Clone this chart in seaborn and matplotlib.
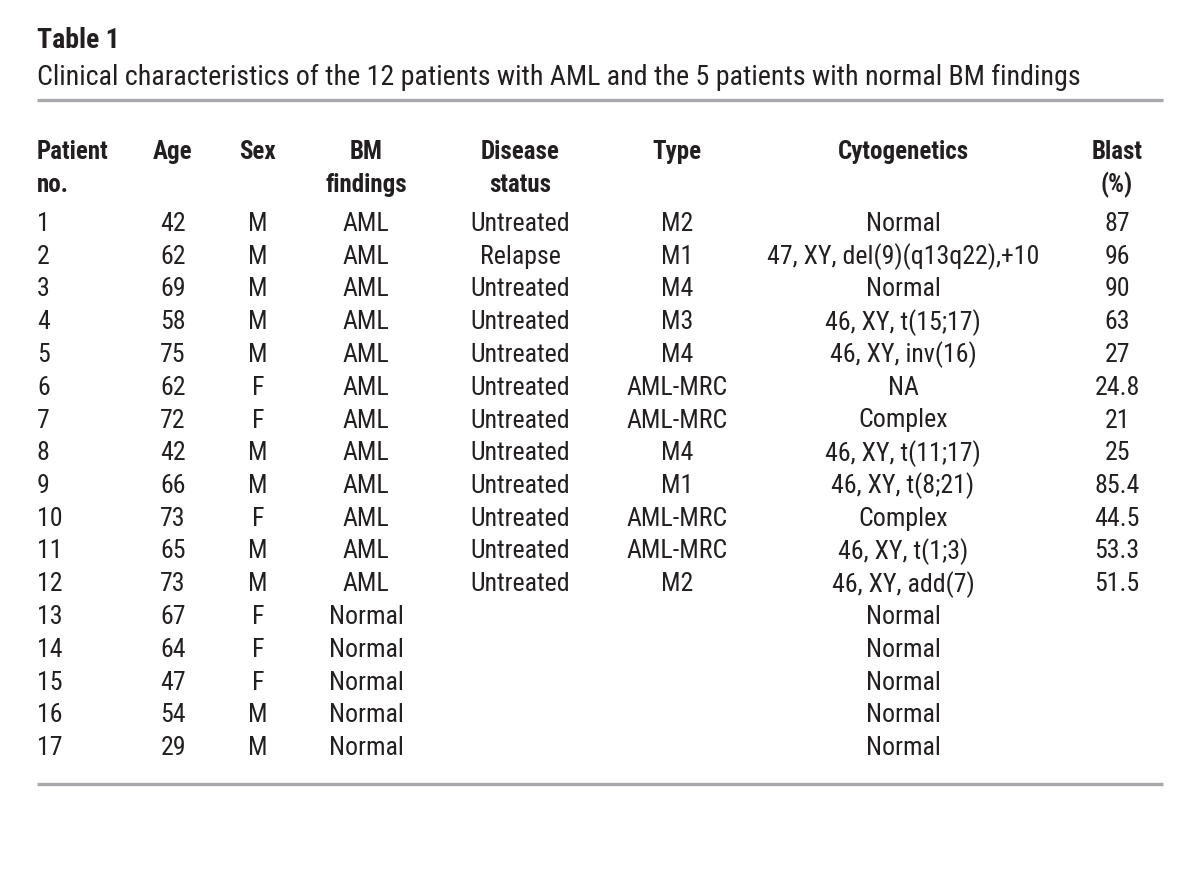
import matplotlib
matplotlib.use("Agg")
import matplotlib.pyplot as plt
from matplotlib import font_manager
import seaborn as sns

title = "Table 1"
subtitle = "Clinical characteristics of the 12 patients with AML and the 5 patients with normal BM findings"

headers = [["Patient", "no."], ["Age"], ["Sex"], ["BM", "findings"], ["Disease", "status"],
           ["Type"], ["Cytogenetics"], ["Blast", "(%)"]]

patient = ["1", "2", "3", "4", "5", "6", "7", "8", "9", "10", "11", "12", "13", "14", "15", "16", "17"]
age = ["42", "62", "69", "58", "75", "62", "72", "42", "66", "73", "65", "73", "67", "64", "47", "54", "29"]
sex = ["M", "M", "M", "M", "M", "F", "F", "M", "M", "F", "M", "M", "F", "F", "F", "M", "M"]
bm_findings = ["AML", "AML", "AML", "AML", "AML", "AML", "AML", "AML", "AML", "AML", "AML", "AML",
               "Normal", "Normal", "Normal", "Normal", "Normal"]
disease_status = ["Untreated", "Relapse", "Untreated", "Untreated", "Untreated", "Untreated", "Untreated",
                  "Untreated", "Untreated", "Untreated", "Untreated", "Untreated", "", "", "", "", ""]
aml_type = ["M2", "M1", "M4", "M3", "M4", "AML-MRC", "AML-MRC", "M4", "M1", "AML-MRC", "AML-MRC", "M2",
            "", "", "", "", ""]
cytogenetics = ["Normal", "47, XY, del(9)(q13q22),+10", "Normal", "46, XY, t(15;17)", "46, XY, inv(16)",
                "NA", "Complex", "46, XY, t(11;17)", "46, XY, t(8;21)", "Complex", "46, XY, t(1;3)",
                "46, XY, add(7)", "Normal", "Normal", "Normal", "Normal", "Normal"]
blast = ["87", "96", "90", "63", "27", "24.8", "21", "25", "85.4", "44.5", "53.3", "51.5", "", "", "", "", ""]

columns = [patient, age, sex, bm_findings, disease_status, aml_type, cytogenetics, blast]

sns.set_theme(style="white")
installed = {f.name for f in font_manager.fontManager.ttflist}
if "Roboto Condensed" in installed:
    plt.rcParams["font.family"] = ["Roboto Condensed", "DejaVu Sans"]
    stretch, scale = "normal", 1.0
else:
    # DejaVu ships a condensed cut; it is still wider, so shrink a bit
    plt.rcParams["font.family"] = ["DejaVu Sans"]
    stretch, scale = "condensed", 0.85

ink = "#231f20"
rule = "#a7a9ac"

# layout in pixel coordinates
col_x = [37, 173, 258, 366, 520, 677, 903, 1117]
col_ha = ["left", "center", "center", "center", "center", "center", "center", "center"]
header_y = [152, 185]
row_y0, row_step = 224, 32.75

fig = plt.figure(figsize=(12, 8.83), dpi=100)
ax = fig.add_axes([0, 0, 1, 1])
ax.set_xlim(0, 1200)
ax.set_ylim(883, 0)
ax.axis("off")

ax.text(37, 40, title, fontsize=20 * scale, fontweight="bold", fontstretch=stretch,
        color=ink, va="center", ha="left")
ax.text(37, 77, subtitle, fontsize=20.2 * scale, fontstretch=stretch,
        color=ink, va="center", ha="left")
ax.plot([37, 1163], [99.5, 99.5], color=rule, lw=2.4, solid_capstyle="butt")

for x, ha, head in zip(col_x, col_ha, headers):
    for y, line in zip(header_y, head):
        ax.text(x, y, line, fontsize=18 * scale, fontweight="bold", fontstretch=stretch,
                color=ink, va="center", ha=ha)

for x, ha, values in zip(col_x, col_ha, columns):
    for i, v in enumerate(values):
        ax.text(x, row_y0 + i * row_step, v, fontsize=18.6 * scale, fontstretch=stretch,
                color=ink, va="center", ha=ha)

ax.plot([37, 1163], [783.5, 783.5], color=rule, lw=2.4, solid_capstyle="butt")

fig.savefig("out.png", dpi=100, facecolor="white")
